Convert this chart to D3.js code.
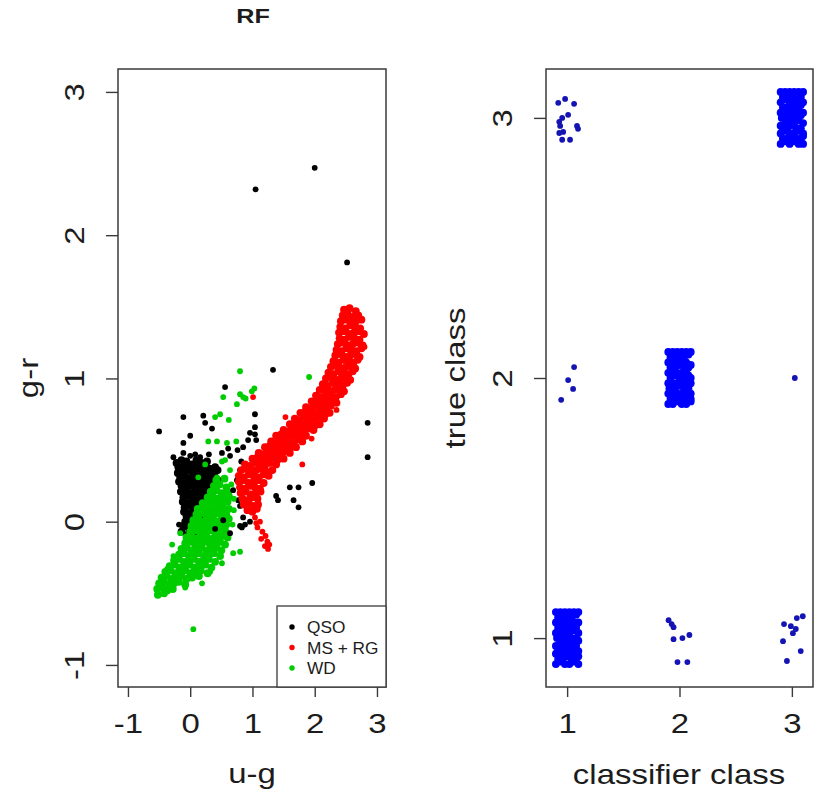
<!DOCTYPE html>
<html>
<head>
<meta charset="utf-8">
<script src="https://cdn.jsdelivr.net/npm/d3@7"></script>
<style>
    body { margin: 0; background: #fff; }
    svg { display: block; font-family: 'Liberation Sans', Arial, Helvetica, sans-serif; }
</style>
</head>
<body>
<svg id="chart" width="817" height="793"></svg>
<script>
(function() {
    'use strict';

    // ---- left panel: colour-colour diagram, [u-g, g-r] ----
    var qsoCore = [
        [-0.22,0.41],[-0.14,0.43],[-0.06,0.42],[0.03,0.40],[0.10,0.43],[0.18,0.41],[0.27,0.42],
        [-0.19,0.38],[-0.10,0.39],[-0.02,0.37],[0.06,0.39],[0.14,0.38],[0.22,0.39],[0.31,0.37],[0.40,0.38],
        [-0.20,0.34],[-0.12,0.35],[-0.04,0.36],[0.04,0.34],[0.11,0.35],[0.19,0.36],[0.27,0.34],[0.35,0.35],[0.44,0.36],
        [-0.16,0.31],[-0.08,0.32],[0.00,0.30],[0.08,0.32],[0.15,0.31],[0.23,0.32],[0.31,0.30],[0.39,0.32],
        [-0.18,0.28],[-0.10,0.27],[-0.02,0.29],[0.05,0.28],[0.12,0.27],[0.20,0.29],[0.28,0.28],[0.36,0.27],[0.44,0.29],
        [-0.14,0.25],[-0.06,0.24],[0.02,0.25],[0.09,0.23],[0.16,0.25],[0.24,0.24],[0.32,0.25],[0.40,0.23],
        [-0.15,0.21],[-0.07,0.22],[0.00,0.20],[0.07,0.21],[0.14,0.22],[0.21,0.20],[0.29,0.21],[0.37,0.22],
        [-0.11,0.17],[-0.03,0.18],[0.05,0.17],[0.12,0.18],[0.19,0.16],[0.26,0.18],[0.34,0.17],
        [-0.12,0.14],[-0.04,0.13],[0.03,0.15],[0.10,0.14],[0.17,0.13],[0.24,0.15],[0.31,0.14],
        [-0.09,0.10],[-0.01,0.11],[0.06,0.10],[0.13,0.11],[0.20,0.09],[0.27,0.11],
        [-0.10,0.07],[-0.02,0.06],[0.05,0.08],[0.12,0.07],[0.19,0.06],[0.26,0.07],
        [-0.06,0.04],[0.02,0.03],[0.09,0.04],[0.16,0.03],[0.23,0.04],
        [-0.08,0.00],[0.00,0.01],[0.07,-0.01],[0.14,0.00],[0.21,0.01],
        [-0.11,-0.03],[-0.03,-0.04],[0.05,-0.03],[0.12,-0.04],
        [-0.14,-0.07],[-0.02,-0.08],[0.08,-0.07]
    ];
    var qsoScatter = [
        [-0.50,0.63],[1.05,2.32],[2.00,2.47],[2.52,1.81],[2.85,0.69],[2.85,0.45],[1.33,1.06],[0.56,0.94],
        [-0.11,0.73],[0.21,0.74],[0.24,0.69],[0.35,0.65],[0.00,0.60],[-0.11,0.55],
        [1.04,0.75],[1.04,0.66],[0.96,0.62],[1.04,0.61],[1.06,0.57],[0.93,0.57],[0.85,0.52],
        [0.76,0.50],[0.61,0.51],[0.51,0.48],[0.64,0.46],[0.82,0.42],[0.80,0.36],[0.75,0.29],[0.69,0.22],
        [-0.27,0.45],[-0.11,0.48],[0.00,0.46],[0.08,0.47],[0.16,0.45],[0.30,0.47],
        [1.38,0.18],[1.60,0.24],[1.74,0.24],[1.96,0.27],[1.41,0.15],[1.66,0.15],[1.74,0.10],
        [0.77,0.15],[0.80,0.11],[0.91,0.08],[0.83,-0.04],[0.88,-0.02],[0.96,0.00],[0.85,0.03],
        [0.53,0.01],[0.64,-0.08],[0.80,-0.03],[-0.18,-0.02],[0.40,-0.05]
    ];
    var wdCore = [
        [0.42,0.29],[0.55,0.30],
        [0.38,0.25],[0.47,0.26],[0.58,0.24],
        [0.33,0.21],[0.42,0.22],[0.50,0.20],[0.60,0.21],
        [0.28,0.17],[0.36,0.18],[0.44,0.16],[0.52,0.17],[0.62,0.18],
        [0.20,0.13],[0.28,0.12],[0.36,0.14],[0.44,0.13],[0.52,0.12],[0.60,0.14],
        [0.12,0.09],[0.20,0.10],[0.28,0.08],[0.36,0.09],[0.44,0.10],[0.52,0.08],[0.62,0.09],
        [0.10,0.05],[0.18,0.06],[0.26,0.04],[0.34,0.05],[0.42,0.06],[0.50,0.04],[0.58,0.05],
        [0.05,0.01],[0.13,0.02],[0.21,0.00],[0.29,0.01],[0.37,0.02],[0.45,0.00],[0.53,0.01],[0.62,0.02],
        [0.02,-0.03],[0.10,-0.02],[0.18,-0.04],[0.26,-0.03],[0.34,-0.02],[0.42,-0.04],[0.50,-0.03],[0.58,-0.02],
        [0.00,-0.07],[0.08,-0.06],[0.16,-0.08],[0.24,-0.07],[0.32,-0.06],[0.40,-0.08],[0.48,-0.07],[0.56,-0.06],
        [-0.06,-0.11],[0.02,-0.10],[0.10,-0.12],[0.18,-0.11],[0.26,-0.10],[0.34,-0.12],[0.42,-0.11],[0.50,-0.10],[0.60,-0.11],
        [-0.08,-0.15],[0.00,-0.14],[0.08,-0.16],[0.16,-0.15],[0.24,-0.14],[0.32,-0.16],[0.40,-0.15],[0.48,-0.14],[0.56,-0.16],
        [-0.14,-0.19],[-0.06,-0.18],[0.02,-0.20],[0.10,-0.19],[0.18,-0.18],[0.26,-0.20],[0.34,-0.19],[0.42,-0.18],[0.50,-0.20],
        [-0.18,-0.23],[-0.10,-0.22],[-0.02,-0.24],[0.06,-0.23],[0.14,-0.22],[0.22,-0.24],[0.30,-0.23],[0.38,-0.22],[0.48,-0.24],
        [-0.26,-0.27],[-0.18,-0.26],[-0.10,-0.28],[-0.02,-0.27],[0.06,-0.26],[0.14,-0.28],[0.22,-0.27],[0.30,-0.26],[0.40,-0.28],
        [-0.33,-0.31],[-0.25,-0.30],[-0.17,-0.32],[-0.09,-0.31],[-0.01,-0.30],[0.07,-0.32],[0.15,-0.31],[0.24,-0.30],[0.34,-0.32],
        [-0.40,-0.35],[-0.32,-0.34],[-0.24,-0.36],[-0.16,-0.35],[-0.08,-0.34],[0.00,-0.36],[0.08,-0.35],[0.17,-0.34],[0.28,-0.36],
        [-0.46,-0.39],[-0.38,-0.38],[-0.30,-0.40],[-0.22,-0.39],[-0.14,-0.38],[-0.06,-0.40],[0.03,-0.39],[0.14,-0.38],
        [-0.50,-0.43],[-0.42,-0.42],[-0.34,-0.44],[-0.26,-0.43],[-0.18,-0.42],[-0.08,-0.44],
        [-0.53,-0.47],[-0.45,-0.46],[-0.37,-0.48],[-0.28,-0.47],
        [-0.52,-0.51],[-0.42,-0.50]
    ];
    var wdScatter = [
        [0.80,1.05],[1.91,1.01],[1.03,0.93],[0.99,0.91],[0.85,0.87],[0.80,0.89],[0.89,0.86],[0.75,0.82],
        [0.53,0.87],[0.40,0.73],[0.48,0.75],[0.62,0.71],[1.43,0.47],[0.29,0.56],[0.43,0.56],[0.59,0.55],
        [0.74,0.56],[0.56,0.43],[0.51,0.42],[0.64,0.36],[0.59,0.24],[0.66,0.26],[0.70,0.16],[0.43,0.31],
        [0.24,0.40],[0.13,0.31],[0.05,-0.75],
        [0.80,-0.21],[0.69,-0.22],[0.51,-0.29],[0.32,-0.35],[0.19,-0.43],[-0.08,-0.46],[-0.29,-0.16],
        [-0.16,-0.08],[-0.27,-0.24],[-0.37,-0.33],[0.68,-0.02],[0.70,0.08]
    ];
    var msrgBand = [
        [2.47,1.48],[2.56,1.49],[2.66,1.47],
        [2.45,1.44],[2.53,1.45],[2.61,1.43],[2.70,1.44],
        [2.42,1.40],[2.50,1.41],[2.58,1.39],[2.66,1.40],[2.75,1.41],
        [2.41,1.36],[2.49,1.35],[2.57,1.37],[2.65,1.36],[2.73,1.35],
        [2.39,1.32],[2.47,1.33],[2.55,1.31],[2.63,1.32],[2.71,1.33],[2.79,1.31],
        [2.40,1.28],[2.48,1.27],[2.56,1.29],[2.64,1.28],[2.72,1.27],
        [2.37,1.24],[2.45,1.25],[2.53,1.23],[2.61,1.24],[2.69,1.25],[2.77,1.23],
        [2.35,1.20],[2.43,1.19],[2.51,1.21],[2.59,1.20],[2.67,1.19],[2.75,1.21],
        [2.33,1.16],[2.41,1.17],[2.49,1.15],[2.57,1.16],[2.65,1.17],[2.72,1.15],
        [2.30,1.12],[2.38,1.11],[2.46,1.13],[2.54,1.12],[2.62,1.11],[2.69,1.13],
        [2.26,1.08],[2.34,1.09],[2.42,1.07],[2.50,1.08],[2.58,1.09],[2.65,1.07],
        [2.22,1.04],[2.30,1.03],[2.38,1.05],[2.46,1.04],[2.54,1.03],[2.61,1.05],
        [2.18,1.00],[2.26,1.01],[2.34,0.99],[2.42,1.00],[2.50,1.01],[2.57,0.99],
        [2.13,0.96],[2.21,0.95],[2.29,0.97],[2.37,0.96],[2.45,0.95],[2.52,0.97],
        [2.08,0.92],[2.16,0.93],[2.24,0.91],[2.32,0.92],[2.40,0.93],[2.47,0.91],
        [2.02,0.88],[2.10,0.87],[2.18,0.89],[2.26,0.88],[2.34,0.87],[2.42,0.89],
        [1.95,0.84],[2.03,0.85],[2.11,0.83],[2.19,0.84],[2.27,0.85],[2.35,0.83],
        [1.86,0.80],[1.94,0.79],[2.02,0.81],[2.10,0.80],[2.18,0.79],[2.26,0.81],
        [1.77,0.76],[1.85,0.77],[1.93,0.75],[2.01,0.76],[2.09,0.77],[2.17,0.75],[2.24,0.76],
        [1.68,0.72],[1.76,0.71],[1.84,0.73],[1.92,0.72],[2.00,0.71],[2.08,0.73],[2.15,0.72],
        [1.60,0.68],[1.68,0.69],[1.76,0.67],[1.84,0.68],[1.92,0.69],[2.00,0.67],[2.08,0.68],
        [1.50,0.64],[1.58,0.63],[1.66,0.65],[1.74,0.64],[1.82,0.63],[1.90,0.65],[1.98,0.64],
        [1.38,0.60],[1.46,0.61],[1.54,0.59],[1.62,0.60],[1.70,0.61],[1.78,0.59],[1.86,0.60],
        [1.30,0.56],[1.38,0.55],[1.46,0.57],[1.54,0.56],[1.62,0.55],[1.70,0.57],[1.80,0.56],
        [1.20,0.52],[1.28,0.53],[1.36,0.51],[1.44,0.52],[1.52,0.53],[1.60,0.51],[1.70,0.52],
        [1.10,0.48],[1.18,0.47],[1.26,0.49],[1.34,0.48],[1.42,0.47],[1.50,0.49],[1.60,0.48],
        [1.00,0.44],[1.08,0.45],[1.16,0.43],[1.24,0.44],[1.32,0.45],[1.40,0.43],[1.50,0.44],
        [0.88,0.40],[0.96,0.39],[1.04,0.41],[1.12,0.40],[1.20,0.39],[1.28,0.41],[1.38,0.40],
        [0.82,0.36],[0.90,0.37],[0.98,0.35],[1.06,0.36],[1.14,0.37],[1.22,0.35],[1.32,0.36],
        [0.78,0.32],[0.86,0.31],[0.94,0.33],[1.02,0.32],[1.10,0.31],[1.18,0.33],[1.26,0.32],
        [0.78,0.28],[0.86,0.29],[0.94,0.27],[1.02,0.28],[1.10,0.29],[1.18,0.27],
        [0.80,0.24],[0.88,0.23],[0.96,0.25],[1.04,0.24],[1.12,0.23],
        [0.81,0.20],[0.89,0.21],[0.97,0.19],[1.05,0.20],[1.13,0.21],
        [0.84,0.16],[0.92,0.15],[1.00,0.17],[1.08,0.16],
        [0.86,0.12],[0.94,0.13],[1.02,0.11],[1.09,0.12],
        [0.92,0.08],[1.00,0.07],[1.07,0.09]
    ];
    var msrgScatter = [
        [1.04,0.03],[1.12,0.00],[1.08,-0.04],[1.16,-0.07],[1.21,-0.10],[1.14,-0.12],[1.24,-0.14],
        [1.20,-0.17],[1.27,-0.16],[1.25,-0.19],[1.06,-0.01],[1.01,0.87],[1.53,0.73],[1.80,0.40],
        [2.35,0.78],[2.80,1.22],[1.95,0.58]
    ];

    // ---- right panel: jittered [classifier class, true class] ----
    var hits1 = [
        [0.90,0.90],[0.94,0.91],[0.98,0.90],[1.02,0.90],[1.06,0.91],[1.10,0.90],
        [0.92,0.92],[0.96,0.92],[1.00,0.93],[1.04,0.92],[1.08,0.92],[1.10,0.93],
        [0.90,0.94],[0.94,0.94],[0.98,0.95],[1.02,0.94],[1.06,0.94],[1.10,0.95],
        [0.92,0.96],[0.96,0.97],[1.00,0.96],[1.04,0.96],[1.08,0.97],[0.90,0.97],
        [0.94,0.98],[0.98,0.99],[1.02,0.98],[1.06,0.98],[1.10,0.99],[0.91,1.00],
        [0.96,1.00],[1.00,1.01],[1.04,1.00],[1.08,1.00],[1.10,1.02],[0.90,1.02],
        [0.94,1.02],[0.98,1.03],[1.02,1.02],[1.06,1.03],[0.92,1.04],[0.96,1.05],
        [1.00,1.04],[1.04,1.05],[1.08,1.04],[1.10,1.06],[0.90,1.06],[0.94,1.07],
        [0.98,1.06],[1.02,1.07],[1.06,1.06],[0.92,1.08],[0.96,1.08],[1.00,1.09],
        [1.04,1.08],[1.08,1.09],[0.90,1.10],[0.94,1.10],[0.98,1.10],[1.02,1.10],
        [1.06,1.10],[1.10,1.10]
    ];
    var hits2 = [
        [1.90,1.90],[1.94,1.90],[1.98,1.91],[2.02,1.90],[2.06,1.90],[2.10,1.91],
        [1.92,1.92],[1.96,1.93],[2.00,1.92],[2.04,1.92],[2.08,1.93],[2.10,1.92],
        [1.90,1.94],[1.94,1.95],[1.98,1.94],[2.02,1.94],[2.06,1.95],[2.10,1.94],
        [1.91,1.96],[1.96,1.96],[2.00,1.97],[2.04,1.96],[2.08,1.96],[1.90,1.98],
        [1.94,1.98],[1.98,1.98],[2.02,1.99],[2.06,1.98],[2.10,1.98],[1.92,2.00],
        [1.96,2.01],[2.00,2.00],[2.04,2.00],[2.08,2.01],[2.10,2.00],[1.90,2.02],
        [1.94,2.03],[1.98,2.02],[2.02,2.02],[2.06,2.03],[1.92,2.04],[1.96,2.04],
        [2.00,2.05],[2.04,2.04],[2.08,2.04],[2.10,2.05],[1.90,2.06],[1.94,2.06],
        [1.98,2.07],[2.02,2.06],[2.06,2.06],[1.92,2.08],[1.96,2.09],[2.00,2.08],
        [2.04,2.08],[2.08,2.09],[1.90,2.10],[1.94,2.10],[1.98,2.10],[2.02,2.10],
        [2.06,2.10],[2.10,2.10]
    ];
    var hits3 = [
        [2.90,2.90],[2.94,2.91],[2.98,2.90],[3.02,2.91],[3.06,2.90],[3.10,2.90],
        [2.92,2.92],[2.96,2.92],[3.00,2.93],[3.04,2.92],[3.08,2.92],[3.10,2.93],
        [2.90,2.94],[2.94,2.95],[2.98,2.94],[3.02,2.94],[3.06,2.95],[3.10,2.94],
        [2.92,2.96],[2.96,2.96],[3.00,2.97],[3.04,2.96],[3.08,2.96],[2.90,2.97],
        [2.94,2.98],[2.98,2.99],[3.02,2.98],[3.06,2.99],[3.10,2.98],[2.91,3.00],
        [2.96,3.00],[3.00,3.01],[3.04,3.00],[3.08,3.01],[3.10,3.02],[2.90,3.02],
        [2.94,3.02],[2.98,3.03],[3.02,3.02],[3.06,3.03],[2.92,3.04],[2.96,3.04],
        [3.00,3.05],[3.04,3.04],[3.08,3.05],[3.10,3.06],[2.90,3.06],[2.94,3.07],
        [2.98,3.06],[3.02,3.07],[3.06,3.06],[2.92,3.08],[2.96,3.08],[3.00,3.09],
        [3.04,3.08],[3.08,3.08],[2.90,3.10],[2.94,3.10],[2.98,3.10],[3.02,3.10],
        [3.06,3.10],[3.10,3.10]
    ];
    var misses = [
        // true 3, called 1
        [0.921,3.058],[0.982,3.073],[1.062,3.054],[0.956,3.000],[1.009,3.012],[0.930,2.985],[0.938,2.969],
        [1.088,2.969],[1.097,2.958],[0.930,2.942],[0.965,2.946],[0.956,2.916],[1.026,2.916],
        // true 2
        [1.062,2.042],[1.009,1.992],[1.053,1.958],[0.947,1.916],[3.026,2.000],
        // true 1
        [1.903,1.069],[1.930,1.054],[1.947,1.042],[1.947,0.996],[2.026,1.000],[2.088,1.012],[1.982,0.908],[2.070,0.908],
        [3.097,1.084],[3.044,1.077],[2.930,1.054],[2.991,1.046],[3.035,1.035],[3.009,1.019],[2.921,0.988],[3.079,0.950],[2.956,0.912]
    ];

    var uTicks = [-1, 0, 1, 2, 3];
    var grTicks = [-1, 0, 1, 2, 3];
    var classTicks = [1, 2, 3];
    var legendLabels = ['QSO', 'MS + RG', 'WD'];

    var INK = '#1c1c1c';
    var FRAME = '#3a3a3a';
    var QSO_COL = '#000000', MSRG_COL = '#ff0000', WD_COL = '#00cd00';
    var HIT_COL = '#0000ff', MISS_COL = '#1414b4';
    // dense clouds overlap heavily, so they get a slightly fatter dot
    var R_DENSE = 3.9, R_SPARSE = 2.9;

    var svg = d3.select('#chart');

    var uScale = d3.scaleLinear().domain([-1.16, 3.145]).range([118, 386]);
    var grScale = d3.scaleLinear().domain([-1.154, 3.16]).range([687, 69]);
    var predScale = d3.scaleLinear().domain([0.812, 3.188]).range([546, 813]);
    var trueScale = d3.scaleLinear().domain([0.812, 3.188]).range([687, 69]);

    /**
     * @desc stretched label, R's wide axis text
     */
    function label(str, x, y, size, opts) {
        opts = opts || {};
        var tf = 'translate(' + x + ',' + y + ')' + (opts.rotate ? ' rotate(-90)' : '') +
            ' scale(' + (opts.sx || 1) + ',1)';
        return svg.append('text')
            .attr('transform', tf)
            .attr('text-anchor', opts.anchor || 'middle')
            .attr('font-size', size + 'px')
            .attr('font-weight', opts.bold ? 'bold' : 'normal')
            .attr('fill', INK)
            .text(str);
    }

    function dots(data, x, y, fill, r) {
        svg.append('g').selectAll('circle')
            .data(data)
            .enter()
            .append('circle')
            .attr('cx', function(d) { return x(d[0]); })
            .attr('cy', function(d) { return y(d[1]); })
            .attr('r', r)
            .attr('fill', fill);
    }

    function frame(x, y) {
        svg.append('rect')
            .attr('x', x.range()[0])
            .attr('y', y.range()[1])
            .attr('width', x.range()[1] - x.range()[0])
            .attr('height', y.range()[0] - y.range()[1])
            .attr('fill', 'none')
            .attr('stroke', FRAME)
            .attr('stroke-width', 1.5);
    }

    function axes(x, y, xTicks, yTicks) {
        var gx = svg.append('g')
            .attr('transform', 'translate(0,' + y.range()[0] + ')')
            .call(d3.axisBottom(x).tickValues(xTicks).tickSize(10).tickSizeOuter(0)
                .tickFormat(function(d) { return String(d); }));
        var gy = svg.append('g')
            .attr('transform', 'translate(' + x.range()[0] + ',0)')
            .call(d3.axisLeft(y).tickValues(yTicks).tickSize(12).tickSizeOuter(0)
                .tickFormat(function(d) { return String(d); }));
        [gx, gy].forEach(function(g) {
            g.attr('font-size', null).attr('font-family', null);
            g.select('.domain').remove();
            g.selectAll('.tick line').attr('stroke', FRAME).attr('stroke-width', 1.4);
            g.selectAll('.tick text')
                .attr('fill', INK)
                .attr('font-size', '27px')
                .attr('text-anchor', 'middle')
                .attr('x', 0).attr('y', 0).attr('dy', null);
        });
        gx.selectAll('.tick text').attr('transform', 'translate(0,46) scale(1.22,1)');
        gy.selectAll('.tick text').attr('transform', 'translate(-34,0) rotate(-90) scale(1.22,1)');
    }

    // left panel
    dots(qsoCore, uScale, grScale, QSO_COL, R_DENSE);
    dots(wdCore, uScale, grScale, WD_COL, R_DENSE);
    dots(qsoScatter, uScale, grScale, QSO_COL, R_SPARSE);
    dots(wdScatter, uScale, grScale, WD_COL, R_SPARSE);
    dots(msrgBand, uScale, grScale, MSRG_COL, R_DENSE);
    dots(msrgScatter, uScale, grScale, MSRG_COL, R_SPARSE);
    frame(uScale, grScale);
    axes(uScale, grScale, uTicks, grTicks);

    // legend, bottom right corner of the left panel
    var legendCols = [QSO_COL, MSRG_COL, WD_COL];
    var lg = svg.append('g').attr('transform', 'translate(277,606)');
    lg.append('rect')
        .attr('width', 109).attr('height', 81)
        .attr('fill', '#fff').attr('stroke', FRAME).attr('stroke-width', 1.3);
    legendLabels.forEach(function(name, i) {
        var cy = 21 + i * 20.5;
        lg.append('circle').attr('cx', 15).attr('cy', cy).attr('r', 2.7).attr('fill', legendCols[i]);
        lg.append('text')
            .attr('transform', 'translate(30,' + (cy + 6) + ') scale(1.08,1)')
            .attr('font-size', '16px')
            .attr('fill', INK)
            .text(name);
    });

    label('RF', 253, 23, 21, {bold: true, sx: 1.2});
    label('u-g', 252, 783, 27, {sx: 1.22});
    label('g-r', 38, 378, 27, {rotate: true, sx: 1.22});

    // right panel
    dots(hits1, predScale, trueScale, HIT_COL, R_DENSE);
    dots(hits2, predScale, trueScale, HIT_COL, R_DENSE);
    dots(hits3, predScale, trueScale, HIT_COL, R_DENSE);
    dots(misses, predScale, trueScale, MISS_COL, R_SPARSE);
    frame(predScale, trueScale);
    axes(predScale, trueScale, classTicks, classTicks);

    label('classifier class', 679, 784, 27, {sx: 1.22});
    label('true class', 465, 378, 27, {rotate: true, sx: 1.22});
})();
</script>
</body>
</html>
